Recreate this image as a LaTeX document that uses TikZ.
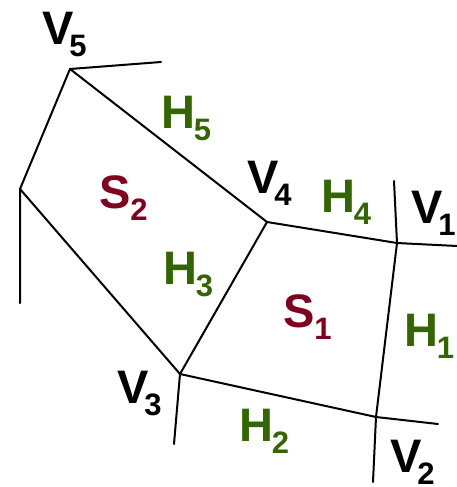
\documentclass[tikz,border=0pt]{standalone}
\usepackage{fontspec}
\setmainfont{Liberation Sans}
\definecolor{hgreen}{RGB}{51,102,0}
\definecolor{sred}{RGB}{128,0,32}
\newcommand\biglet{\fontsize{47}{50}\selectfont\bfseries}
\newcommand\subnum[1]{{\fontsize{31}{33}\selectfont\bfseries\raisebox{-12pt}{#1}}}
\begin{document}
\begin{tikzpicture}[x=1pt,y=-1pt,
  edge/.style={line width=2pt,line cap=round,line join=round},
  lab/.style={anchor=base west,inner sep=0pt,outer sep=0pt}]
\useasboundingbox (0,0) rectangle (457,487);
% vertices
\coordinate (v5) at (70,69);
\coordinate (v5e) at (161,62);
\coordinate (l) at (20,189);
\coordinate (ld) at (20,303);
\coordinate (v4) at (267,222);
\coordinate (v1) at (397,243);
\coordinate (v1u) at (394,181);
\coordinate (v1r) at (457,246);
\coordinate (v3) at (180,374);
\coordinate (v3d) at (174,444);
\coordinate (v2) at (376,417);
\coordinate (v2r) at (438,424);
\coordinate (v2d) at (373,482);
% edges
\draw[edge] (v5e) -- (v5) -- (l) -- (ld);
\draw[edge] (l) -- (v3);
\draw[edge] (v5) -- (v4) -- (v3);
\draw[edge] (v4) -- (v1) -- (v1r);
\draw[edge] (v1u) -- (v1) -- (v2) -- (v2d);
\draw[edge] (v2) -- (v2r);
\draw[edge] (v3) -- (v2);
\draw[edge] (v3) -- (v3d);
% labels
\node[lab] (tv5) at (42,45) {\biglet V\kern-4pt\subnum{5}};
\node[lab] (tv4) at (247,193) {\biglet V\kern-4pt\subnum{4}};
\node[lab] (tv1) at (411,223) {\biglet V\kern-4pt\subnum{1}};
\node[lab] (tv3) at (117,403) {\biglet V\kern-4pt\subnum{3}};
\node[lab] (tv2) at (390,472) {\biglet V\kern-4pt\subnum{2}};
\node[lab,text=hgreen] (th5) at (161,128) {\biglet H\kern-1pt\subnum{5}};
\node[lab,text=hgreen] (th4) at (321,212) {\biglet H\kern-1pt\subnum{4}};
\node[lab,text=hgreen] (th3) at (163,284) {\biglet H\kern-1pt\subnum{3}};
\node[lab,text=hgreen] (th1) at (404,346) {\biglet H\kern-1pt\subnum{1}};
\node[lab,text=hgreen] (th2) at (239,441) {\biglet H\kern-1pt\subnum{2}};
\node[lab,text=sred] (ts2) at (99,208) {\biglet S\subnum{2}};
\node[lab,text=sred] (ts1) at (283,327) {\biglet S\subnum{1}};
\end{tikzpicture}
\end{document}
